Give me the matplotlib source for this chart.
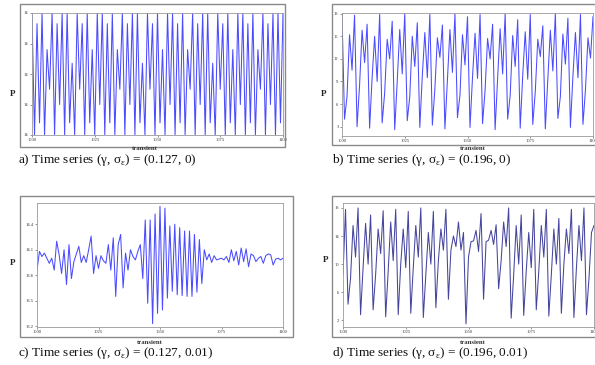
import numpy as np
import matplotlib
matplotlib.use("Agg")
import matplotlib.pyplot as plt
from matplotlib.patches import Rectangle
from matplotlib.ticker import FormatStrFormatter

plt.rcParams['font.family'] = ['Liberation Serif', 'DejaVu Serif']
plt.rcParams['mathtext.fontset'] = 'custom'
plt.rcParams['mathtext.rm'] = 'Liberation Serif'

# time axis (transient steps)
transient = list(range(1000, 1101))

# a) gamma = 0.127, sigma = 0  (period-2 cycle, all values round to 14)
p_a = [14.0040, 13.9960, 14.0033, 13.9968, 14.0040, 13.9960, 14.0016, 13.9990, 14.0040, 13.9960,
       14.0033, 13.9980, 14.0040, 13.9960, 14.0040, 13.9968, 14.0007, 13.9960, 14.0040, 13.9990,
       14.0033, 13.9960, 14.0040, 13.9968, 14.0016, 13.9960, 14.0040, 13.9980, 14.0040, 13.9960,
       14.0033, 13.9968, 14.0040, 13.9960, 14.0016, 13.9990, 14.0040, 13.9960, 14.0033, 13.9980,
       14.0040, 13.9960, 14.0040, 13.9968, 14.0007, 13.9960, 14.0040, 13.9990, 14.0033, 13.9960,
       14.0040, 13.9968, 14.0016, 13.9960, 14.0040, 13.9980, 14.0040, 13.9960, 14.0033, 13.9968,
       14.0040, 13.9960, 14.0016, 13.9990, 14.0040, 13.9960, 14.0033, 13.9980, 14.0040, 13.9960,
       14.0040, 13.9968, 14.0007, 13.9960, 14.0040, 13.9990, 14.0033, 13.9960, 14.0040, 13.9968,
       14.0016, 13.9960, 14.0040, 13.9980, 14.0040, 13.9960, 14.0033, 13.9968, 14.0040, 13.9960,
       14.0016, 13.9990, 14.0040, 13.9960, 14.0033, 13.9980, 14.0040, 13.9960, 14.0040, 13.9968,
       14.0040]

# b) gamma = 0.196, sigma = 0
p_b = [18.0, 4.0, 7.0, 15.2, 10.5, 17.8, 3.0, 8.5, 15.8, 11.5,
       16.6, 2.8, 9.5, 15.0, 9.0, 17.9, 3.5, 7.5, 14.6, 12.0,
       17.0, 2.6, 9.0, 15.9, 10.0, 18.0, 3.8, 7.0, 15.0, 11.0,
       16.8, 2.9, 9.8, 15.5, 9.5, 17.9, 3.2, 8.0, 14.8, 12.2,
       16.5, 2.7, 9.2, 15.9, 10.2, 18.0, 4.2, 7.2, 15.2, 11.2,
       17.6, 2.9, 9.6, 15.4, 9.4, 17.9, 3.4, 7.8, 14.7, 12.0,
       16.6, 2.6, 9.4, 16.0, 10.0, 18.0, 4.0, 7.1, 15.1, 11.0,
       17.2, 2.8, 9.8, 15.6, 9.3, 17.9, 3.3, 7.6, 14.6, 12.3,
       16.4, 2.7, 9.3, 15.8, 10.4, 18.0, 4.1, 7.0, 15.3, 11.3,
       17.4, 2.9, 9.7, 15.5, 9.5, 17.9, 3.3, 7.9, 14.8, 12.1,
       17.6]

# c) gamma = 0.127, sigma = 0.01
p_c = [13.86, 14.08, 14.02, 14.06, 14.00, 13.94, 14.00, 13.86, 14.20, 14.04,
       13.82, 14.10, 13.69, 14.16, 13.76, 13.96, 14.05, 14.14, 13.95, 14.03,
       13.95, 14.10, 14.26, 13.82, 14.03, 13.88, 14.03, 13.97, 13.94, 14.16,
       13.86, 14.24, 13.55, 14.16, 14.28, 13.65, 14.06, 13.86, 14.10, 14.02,
       13.98, 14.08, 14.16, 13.76, 14.45, 13.47, 14.45, 13.23, 14.52, 13.35,
       14.61, 13.39, 14.59, 13.53, 14.38, 13.61, 14.40, 13.57, 14.36, 13.56,
       14.32, 13.55, 14.32, 13.55, 14.28, 13.60, 14.22, 13.70, 14.10, 13.98,
       14.05, 13.95, 14.03, 13.98, 13.99, 14.00, 13.98, 14.02, 13.95, 14.10,
       13.97, 14.08, 13.92, 14.12, 13.96, 14.11, 13.90, 14.05, 14.03, 13.96,
       14.00, 14.02, 13.94, 14.03, 14.05, 14.04, 13.92, 13.99, 14.00, 13.98,
       14.00]

# d) gamma = 0.196, sigma = 0.01
p_d = [8.5, 17.8, 4.3, 8.0, 15.5, 11.0, 18.0, 2.8, 9.5, 15.8,
       10.0, 17.0, 3.5, 8.5, 15.0, 11.5, 17.6, 2.5, 9.0, 16.0,
       10.5, 17.8, 2.8, 10.0, 15.0, 9.5, 17.5, 3.0, 9.5, 15.5,
       11.0, 18.0, 2.4, 8.5, 14.5, 10.0, 17.5, 3.8, 10.5, 15.0,
       12.0, 17.8, 5.0, 12.0, 14.0, 12.5, 16.0, 12.0, 14.5, 1.5,
       11.0, 13.2, 13.3, 14.8, 11.8, 17.2, 5.0, 13.2, 13.4, 14.8,
       12.8, 15.6, 6.5, 10.5, 16.0, 12.5, 18.0, 2.3, 8.5, 15.5,
       10.0, 17.0, 2.7, 9.0, 14.5, 9.5, 17.8, 3.5, 9.0, 15.5,
       11.0, 17.8, 2.6, 8.5, 15.0, 10.0, 16.5, 3.0, 10.0, 15.0,
       11.5, 17.8, 2.4, 9.5, 15.5, 10.5, 18.0, 2.8, 8.0, 14.5,
       15.5]

yticks_a = [13.996, 13.998, 14.0, 14.002, 14.004]
yticks_b = [3, 6, 9, 12, 15, 18]
yticks_c = [13.2, 13.5, 13.8, 14.1, 14.4]
yticks_d = [2, 6, 10, 14, 18]
xticks = [1000, 1025, 1050, 1075, 1100]

captions = ['a) Time series (γ, σ$_\\mathrm{ε}$) = (0.127, 0)',
            'b) Time series (γ, σ$_\\mathrm{ε}$) = (0.196, 0)',
            'c) Time series (γ, σ$_\\mathrm{ε}$) = (0.127, 0.01)',
            'd) Time series (γ, σ$_\\mathrm{ε}$) = (0.196, 0.01)']

W, H = 595, 365
fig = plt.figure(figsize=(W / 100, H / 100), dpi=100)


def box(x0, y0, x1, y1):
    # pixel box (top-left origin) -> figure fraction rect
    return [x0 / W, 1 - y1 / H, (x1 - x0) / W, (y1 - y0) / H]


# screenshot frames around each panel
for (x0, y0, x1, y1) in [(20, 4, 285, 147), (332, 4, 605, 145),
                         (20, 196, 293, 337), (332, 196, 605, 337)]:
    l, b, w, h = box(x0, y0, x1, y1)
    fig.patches.append(Rectangle((l, b), w, h, transform=fig.transFigure,
                                 fill=False, ec='#8a8a8a', lw=1.0))

panels = [
    (p_a, box(32, 13, 283, 135), yticks_a, (13.996, 14.004), '%.0f', '#4b4bff'),
    (p_b, box(342, 13, 593, 136), yticks_b, (1.76, 18.09), '%d', '#4b4bff'),
    (p_c, box(37, 203, 283, 327), yticks_c, (13.19, 14.65), '%.1f', '#4b4bff'),
    (p_d, box(343, 203, 594, 327), yticks_d, (1.05, 18.7), '%d', '#45459e'),
]
ylabel_pos = [(13, 94), (324, 94), (13, 263), (326, 260)]
xlabel_pos = [(145, 148), (473, 149), (150, 342), (473, 342)]
caption_pos = [(18, 160), (332, 160), (18, 353), (332, 353)]

for i, (p, rect, yt, ylim, fmt, col) in enumerate(panels):
    ax = fig.add_axes(rect)
    ax.plot(transient, p, color=col, lw=0.75)
    ax.set_xlim(1000, 1100)
    ax.set_ylim(*ylim)
    ax.set_xticks(xticks)
    ax.set_yticks(yt)
    ax.yaxis.set_major_formatter(FormatStrFormatter(fmt))
    ax.tick_params(labelsize=3.3, length=1.5, width=0.4, pad=1,
                   colors='#444444', labelcolor='#333333')
    for s in ax.spines.values():
        s.set_color('#9a9a9a')
        s.set_linewidth(0.6)
    ax.xaxis.set_clip_on(False)
    px, py = ylabel_pos[i]
    fig.text(px / W, 1 - py / H, 'P', fontsize=6.5, fontweight='bold',
             ha='center', va='center', color='#222222')
    px, py = xlabel_pos[i]
    fig.text(px / W, 1 - py / H, 'transient', fontsize=4.8, fontweight='bold',
             ha='center', va='center', color='#333333')
    px, py = caption_pos[i]
    fig.text(px / W, 1 - py / H, captions[i], fontsize=9.5,
             ha='left', va='center', color='#111111')

fig.savefig('out.png', dpi=100)
